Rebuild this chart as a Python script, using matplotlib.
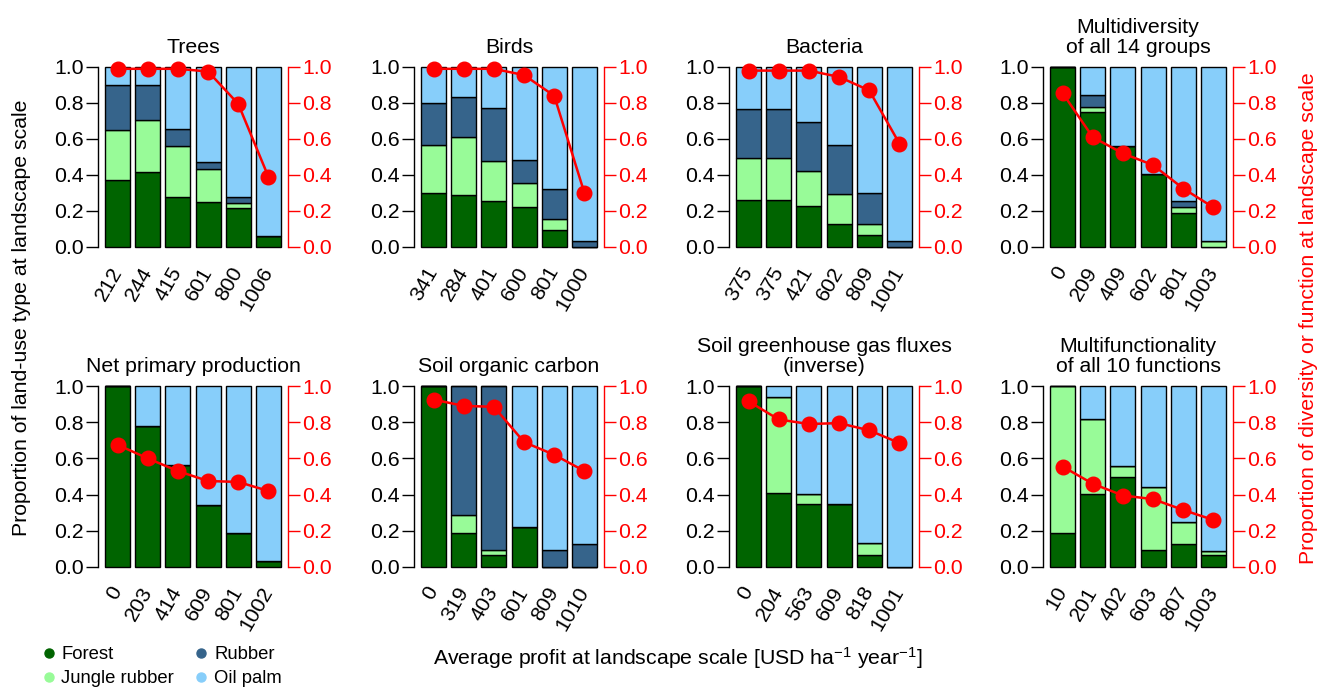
import numpy as np
import matplotlib
matplotlib.use("Agg")
import matplotlib.pyplot as plt
from matplotlib.lines import Line2D

plt.rcParams['font.family'] = ['Liberation Sans', 'DejaVu Sans']
plt.rcParams['mathtext.fontset'] = 'custom'
plt.rcParams['mathtext.rm'] = 'Liberation Sans'
plt.rcParams['mathtext.it'] = 'Liberation Sans:italic'
plt.rcParams['mathtext.default'] = 'regular'

FOREST_C = '#006400'
JUNGLE_C = '#98FB98'
RUBBER_C = '#36648B'
OILPALM_C = '#87CEFA'

titles = ["Trees", "Birds", "Bacteria", "Multidiversity\nof all 14 groups",
          "Net primary production", "Soil organic carbon",
          "Soil greenhouse gas fluxes\n(inverse)", "Multifunctionality\nof all 10 functions"]

profits = [
    ["212", "244", "415", "601", "800", "1006"],
    ["341", "284", "401", "600", "801", "1000"],
    ["375", "375", "421", "602", "809", "1001"],
    ["0", "209", "409", "602", "801", "1003"],
    ["0", "203", "414", "609", "801", "1002"],
    ["0", "319", "403", "601", "809", "1010"],
    ["0", "204", "563", "609", "818", "1001"],
    ["10", "201", "402", "603", "807", "1003"],
]

forest = [
    [0.37, 0.415, 0.28, 0.25, 0.215, 0.06],
    [0.30, 0.29, 0.255, 0.225, 0.095, 0.0],
    [0.26, 0.26, 0.23, 0.13, 0.065, 0.0],
    [1.0, 0.75, 0.56, 0.405, 0.19, 0.0],
    [1.0, 0.78, 0.565, 0.345, 0.19, 0.035],
    [1.0, 0.19, 0.065, 0.22, 0.0, 0.0],
    [1.0, 0.41, 0.35, 0.35, 0.065, 0.0],
    [0.19, 0.405, 0.50, 0.095, 0.125, 0.065],
]
jungle = [
    [0.28, 0.29, 0.28, 0.185, 0.03, 0.0],
    [0.265, 0.32, 0.225, 0.13, 0.06, 0.0],
    [0.235, 0.235, 0.195, 0.165, 0.065, 0.0],
    [0.0, 0.03, 0.0, 0.0, 0.03, 0.035],
    [0.0, 0.0, 0.0, 0.0, 0.0, 0.0],
    [0.0, 0.095, 0.03, 0.0, 0.0, 0.0],
    [0.0, 0.53, 0.055, 0.0, 0.065, 0.0],
    [0.81, 0.41, 0.06, 0.345, 0.125, 0.025],
]
rubber = [
    [0.25, 0.195, 0.095, 0.035, 0.035, 0.0],
    [0.235, 0.225, 0.29, 0.13, 0.165, 0.035],
    [0.27, 0.27, 0.27, 0.27, 0.17, 0.035],
    [0.0, 0.065, 0.0, 0.0, 0.035, 0.0],
    [0.0, 0.0, 0.0, 0.0, 0.0, 0.0],
    [0.0, 0.715, 0.905, 0.0, 0.095, 0.125],
    [0.0, 0.0, 0.0, 0.0, 0.0, 0.0],
    [0.0, 0.0, 0.0, 0.0, 0.0, 0.0],
]
oilpalm = [
    [0.10, 0.10, 0.345, 0.53, 0.72, 0.94],
    [0.20, 0.165, 0.23, 0.515, 0.68, 0.965],
    [0.235, 0.235, 0.305, 0.435, 0.70, 0.965],
    [0.0, 0.155, 0.44, 0.595, 0.745, 0.965],
    [0.0, 0.22, 0.435, 0.655, 0.81, 0.965],
    [0.0, 0.0, 0.0, 0.78, 0.905, 0.875],
    [0.0, 0.06, 0.595, 0.65, 0.87, 1.0],
    [0.0, 0.185, 0.44, 0.56, 0.75, 0.91],
]
proportion = [
    [0.99, 0.99, 0.99, 0.975, 0.795, 0.39],
    [0.99, 0.99, 0.99, 0.955, 0.84, 0.30],
    [0.98, 0.98, 0.98, 0.945, 0.87, 0.575],
    [0.855, 0.61, 0.52, 0.455, 0.325, 0.22],
    [0.675, 0.60, 0.53, 0.475, 0.47, 0.42],
    [0.925, 0.89, 0.885, 0.69, 0.62, 0.53],
    [0.915, 0.815, 0.79, 0.795, 0.755, 0.685],
    [0.555, 0.46, 0.395, 0.375, 0.315, 0.26],
]

W, H = 1321, 688
fig = plt.figure(figsize=(W / 100, H / 100), dpi=100)

lefts_px = [98, 414, 729, 1043]
row_px = [(67, 247), (386, 567)]  # pixel y of 1.0 and 0.0
yticks = [0.0, 0.2, 0.4, 0.6, 0.8, 1.0]
fs = 15.3

for k in range(8):
    r, c = divmod(k, 4)
    top1, bot0 = row_px[r]
    unit = bot0 - top1
    y_lo = bot0 + 0.04 * unit
    y_hi = top1 - 0.04 * unit
    ax = fig.add_axes([lefts_px[c] / W, 1 - y_lo / H, 190 / W, (y_lo - y_hi) / H])
    x = np.arange(6)
    bw = 1 / 1.2
    bottom = np.zeros(6)
    for seg, col in [(forest[k], FOREST_C), (jungle[k], JUNGLE_C),
                     (rubber[k], RUBBER_C), (oilpalm[k], OILPALM_C)]:
        seg = np.array(seg)
        ax.bar(x, seg, bw, bottom=bottom, color=col, edgecolor='black', linewidth=1.0)
        bottom = bottom + seg
    ax.set_xlim(-0.65, 5.65)
    ax.set_ylim(-0.04, 1.04)
    ax.spines['top'].set_visible(False)
    ax.spines['bottom'].set_visible(False)
    ax.spines['right'].set_visible(False)
    ax.spines['left'].set_bounds(0, 1)
    ax.spines['left'].set_linewidth(1.0)
    ax.set_yticks(yticks)
    ax.set_yticklabels(["%.1f" % v for v in yticks], fontsize=fs)
    ax.tick_params(axis='y', length=8.5, width=1.0, pad=2)
    ax.set_xticks(x)
    ax.set_xticklabels(profits[k], rotation=60, ha='right', va='center',
                       rotation_mode='anchor', fontsize=fs)
    ax.tick_params(axis='x', length=0, pad=10)
    ax.set_title(titles[k], fontsize=fs, pad=5, linespacing=1.05)

    ax2 = ax.twinx()
    ax2.set_ylim(-0.04, 1.04)
    ax2.plot(x, proportion[k], color='red', linewidth=1.8, marker='o',
             markersize=10.5, zorder=5, clip_on=False)
    for s in ['top', 'bottom', 'left']:
        ax2.spines[s].set_visible(False)
    ax2.spines['right'].set_bounds(0, 1)
    ax2.spines['right'].set_color('red')
    ax2.spines['right'].set_linewidth(1.0)
    ax2.set_yticks(yticks)
    ax2.set_yticklabels(["%.1f" % v for v in yticks], fontsize=fs, color='red')
    ax2.tick_params(axis='y', length=8.5, width=1.0, pad=2, colors='red')

fig.text(22 / W, 1 - 318 / H, "Proportion of land-use type at landscape scale",
         rotation=90, ha='center', va='center', fontsize=fs)
fig.text(1309 / W, 1 - 318 / H, "Proportion of diversity or function at landscape scale",
         rotation=90, ha='center', va='center', fontsize=fs, color='red')
fig.text(678 / W, 1 - 658 / H,
         "Average profit at landscape scale [USD ha$^{-1}$ year$^{-1}$]",
         ha='center', va='center', fontsize=fs)

handles = [Line2D([], [], marker='o', linestyle='none', color=FOREST_C, markersize=6.5),
           Line2D([], [], marker='o', linestyle='none', color=JUNGLE_C, markersize=6.5),
           Line2D([], [], marker='o', linestyle='none', color=RUBBER_C, markersize=6.5),
           Line2D([], [], marker='o', linestyle='none', color=OILPALM_C, markersize=6.5)]
fig.legend(handles, ["Forest", "Jungle rubber", "Rubber", "Oil palm"], ncol=2,
           loc='upper left', bbox_to_anchor=(43 / W, 1 - 646 / H), frameon=False,
           fontsize=13.3, handlelength=0.6, handletextpad=0.4, columnspacing=1.16,
           labelspacing=0.4, borderpad=0, borderaxespad=0)

fig.savefig("out.png", dpi=100)
